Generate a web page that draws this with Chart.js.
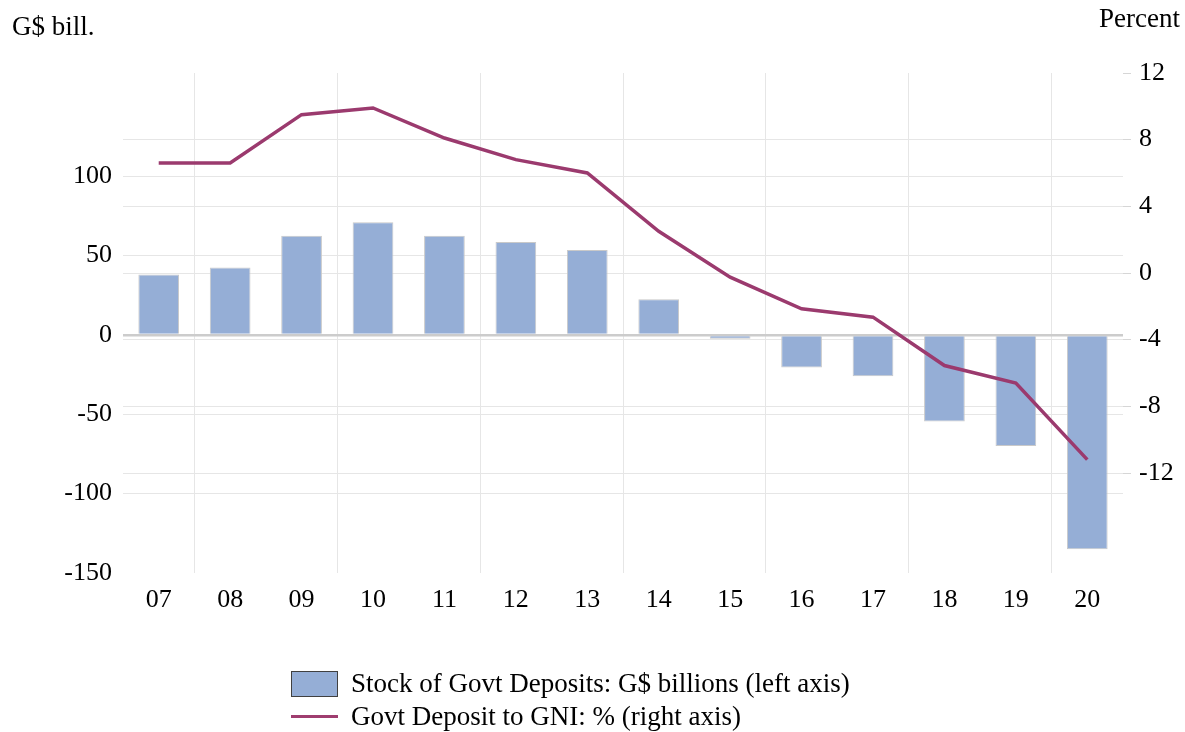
<!DOCTYPE html>
<html>
<head>
<meta charset="utf-8">
<script src="https://cdn.jsdelivr.net/npm/chart.js@4.4.0/dist/chart.umd.min.js"></script>
<style>
body{margin:0;background:#fff;}
#wrap{position:relative;width:1185px;height:732px;}
#leyenda{position:absolute;left:291px;top:667px;font-family:"Liberation Serif","Times New Roman",serif;font-size:27px;color:#000;line-height:33px;}
.item{display:flex;align-items:center;white-space:nowrap;}
.caja{width:47px;height:26px;background:#95aed6;border:1.5px solid #404040;box-sizing:border-box;margin-right:13px;}
.linea{width:47px;height:3px;background:#9f3d6f;margin-right:13px;}
</style>
</head>
<body>
<div id="wrap">
<canvas id="myChart" width="1185" height="732"></canvas>
<div id="leyenda"></div>
</div>
<script>
// datos
const anios    = ['07','08','09','10','11','12','13','14','15','16','17','18','19','20']
const depositos = [38,42.5,62.5,71,62.5,58.5,53.5,22.5,-2.5,-20.5,-26,-54.5,-70,-135]   // G$ bill (eje izq)
const pctGNI   = [6.6,6.6,9.5,9.9,8.1,6.8,6.0,2.5,-0.25,-2.15,-2.65,-5.55,-6.6,-11.2]   // % (eje der)
const ticksIzq = [-150,-100,-50,0,50,100]
const ticksDer = [-12,-8,-4,0,4,8,12]

const fuente = {family:'"Liberation Serif", "Times New Roman", serif', size:26}
const gris   = '#e6e6e6'

//textos de los ejes arriba
const titulos = {
    id:'titulos',
    afterDraw(chart){
        const c = chart.ctx
        c.save()
        c.font = '27px "Liberation Serif"'
        c.fillStyle = '#000'
        c.textBaseline = 'middle'
        c.textAlign = 'left'
        c.fillText('G$ bill.', 12, 28)
        c.textAlign = 'right'
        c.fillText('Percent', 1180, 20)
        c.restore()
    }
}

const ctx = document.getElementById('myChart')
const myChart = new Chart(ctx,{
    type:'bar',
    data:{
        labels:anios,
        datasets:[
            {type:'line',label:'Govt Deposit to GNI: % (right axis)',data:pctGNI,yAxisID:'y1',
             borderColor:'#9b3a6e',borderWidth:3.5,pointRadius:0,tension:0,order:0},
            {type:'bar',label:'Stock of Govt Deposits: G$ billions (left axis)',data:depositos,yAxisID:'y',
             backgroundColor:'#95aed6',borderColor:'#c9c9c9',borderWidth:1,barPercentage:0.57,categoryPercentage:1,order:1}
        ]
    },
    options:{
        responsive:false,
        animation:false,
        layout:{padding:{left:0,right:0,top:73,bottom:109}},
        plugins:{legend:{display:false},tooltip:{enabled:false}},
        scales:{
            x:{
                offset:true,
                grid:{offset:true,drawTicks:false,color:c=>c.index%2===1?gris:'rgba(0,0,0,0)'},
                border:{display:false},
                ticks:{font:fuente,color:'#000',padding:12,maxRotation:0},
                afterFit:s=>{s.height=50}
            },
            y:{
                position:'left',min:-150,max:165,
                afterBuildTicks:s=>{s.ticks=ticksIzq.map(v=>({value:v}))},
                grid:{drawTicks:false,
                      color:c=>c.tick.value===0?'#cccccc':(c.tick.value===-150?'rgba(0,0,0,0)':gris),
                      lineWidth:c=>c.tick.value===0?2.5:1},
                border:{display:false},
                ticks:{font:fuente,color:'#000',padding:11},
                afterFit:s=>{s.width=123}
            },
            y1:{
                position:'right',min:-18,max:12,
                afterBuildTicks:s=>{s.ticks=ticksDer.map(v=>({value:v}))},
                grid:{color:c=>c.tick.value===12?'rgba(0,0,0,0)':gris,tickColor:'#d6d6d6',tickLength:8},
                border:{display:false},
                ticks:{font:fuente,color:'#000',padding:8},
                afterFit:s=>{s.width=62}
            }
        }
    },
    plugins:[titulos]
})

//leyenda en html (dos filas)
const leyenda = document.getElementById('leyenda')
const dsBar = myChart.data.datasets[1], dsLin = myChart.data.datasets[0]
leyenda.innerHTML =
    `<div class="item"><span class="caja"></span>${dsBar.label}</div>`+
    `<div class="item"><span class="linea"></span>${dsLin.label}</div>`
</script>
</body>
</html>
